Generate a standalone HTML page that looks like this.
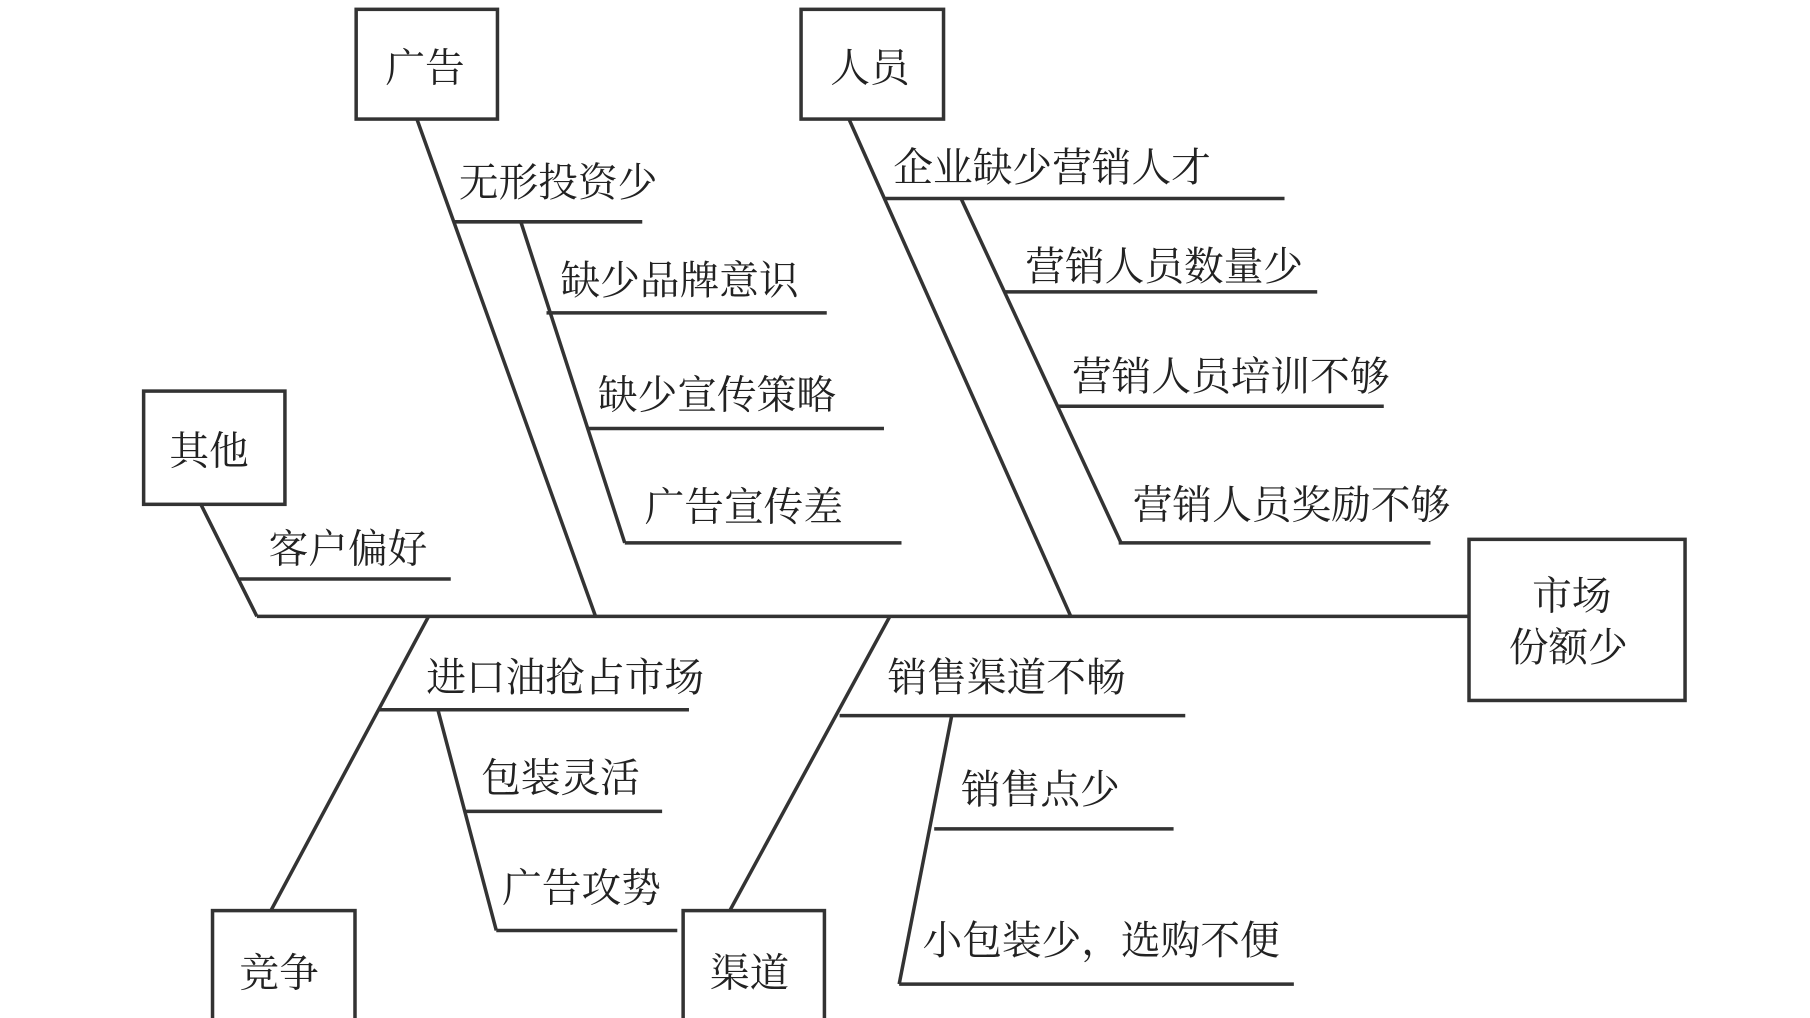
<!DOCTYPE html>
<html><head><meta charset="utf-8"><style>html,body{margin:0;padding:0;background:#fff}svg{display:block}</style></head><body>
<svg width="1810" height="1018" viewBox="0 0 1550 872" preserveAspectRatio="none" xmlns="http://www.w3.org/2000/svg">
<g stroke="#333" stroke-width="3" fill="none">
<rect x="305" y="8" width="121" height="94"/>
<rect x="686" y="8" width="122" height="94"/>
<rect x="123" y="335" width="121" height="97"/>
<rect x="1258" y="462" width="185" height="138"/>
<rect x="182" y="780" width="122" height="98"/>
<rect x="585" y="780" width="121" height="98"/>
<line x1="220" y1="528" x2="1258" y2="528"/>
<line x1="357" y1="102" x2="510" y2="528"/>
<line x1="388" y1="190" x2="550" y2="190"/>
<line x1="446" y1="190" x2="535" y2="465"/>
<line x1="468" y1="268" x2="708" y2="268"/>
<line x1="503" y1="367" x2="757" y2="367"/>
<line x1="535" y1="465" x2="772" y2="465"/>
<line x1="727" y1="102" x2="917" y2="528"/>
<line x1="757" y1="170" x2="1100" y2="170"/>
<line x1="823" y1="170" x2="960" y2="465"/>
<line x1="860" y1="250" x2="1128" y2="250"/>
<line x1="905" y1="348" x2="1185" y2="348"/>
<line x1="958" y1="465" x2="1225" y2="465"/>
<line x1="172" y1="432" x2="220" y2="528"/>
<line x1="205" y1="496" x2="386" y2="496"/>
<line x1="232" y1="780" x2="367" y2="528"/>
<line x1="325" y1="608" x2="590" y2="608"/>
<line x1="375" y1="608" x2="425" y2="797"/>
<line x1="397" y1="695" x2="567" y2="695"/>
<line x1="425" y1="797" x2="580" y2="797"/>
<line x1="625" y1="780" x2="762" y2="528"/>
<line x1="719" y1="613" x2="1015" y2="613"/>
<line x1="815" y1="613" x2="770" y2="843"/>
<line x1="800" y1="710" x2="1005" y2="710"/>
<line x1="770" y1="843" x2="1108" y2="843"/>
</g>
<g font-family="'Liberation Serif','Noto Serif CJK SC',serif" font-size="34" fill="#222">
<text x="330" y="70">广告</text>
<text x="711" y="70">人员</text>
<text x="145" y="398">其他</text>
<text x="1312" y="522">市场</text>
<text x="1292" y="566">份额少</text>
<text x="205" y="845">竞争</text>
<text x="608" y="845">渠道</text>
<text x="393" y="168">无形投资少</text>
<text x="480" y="252">缺少品牌意识</text>
<text x="512" y="350">缺少宣传策略</text>
<text x="552" y="446">广告宣传差</text>
<text x="765" y="155">企业缺少营销人才</text>
<text x="878" y="240">营销人员数量少</text>
<text x="918" y="334">营销人员培训不够</text>
<text x="970" y="444">营销人员奖励不够</text>
<text x="230" y="482">客户偏好</text>
<text x="365" y="592">进口油抢占市场</text>
<text x="412" y="678">包装灵活</text>
<text x="430" y="772">广告攻势</text>
<text x="760" y="592">销售渠道不畅</text>
<text x="823" y="688">销售点少</text>
<text x="790" y="817">小包装少，选购不便</text>
</g>
</svg>
</body></html>
